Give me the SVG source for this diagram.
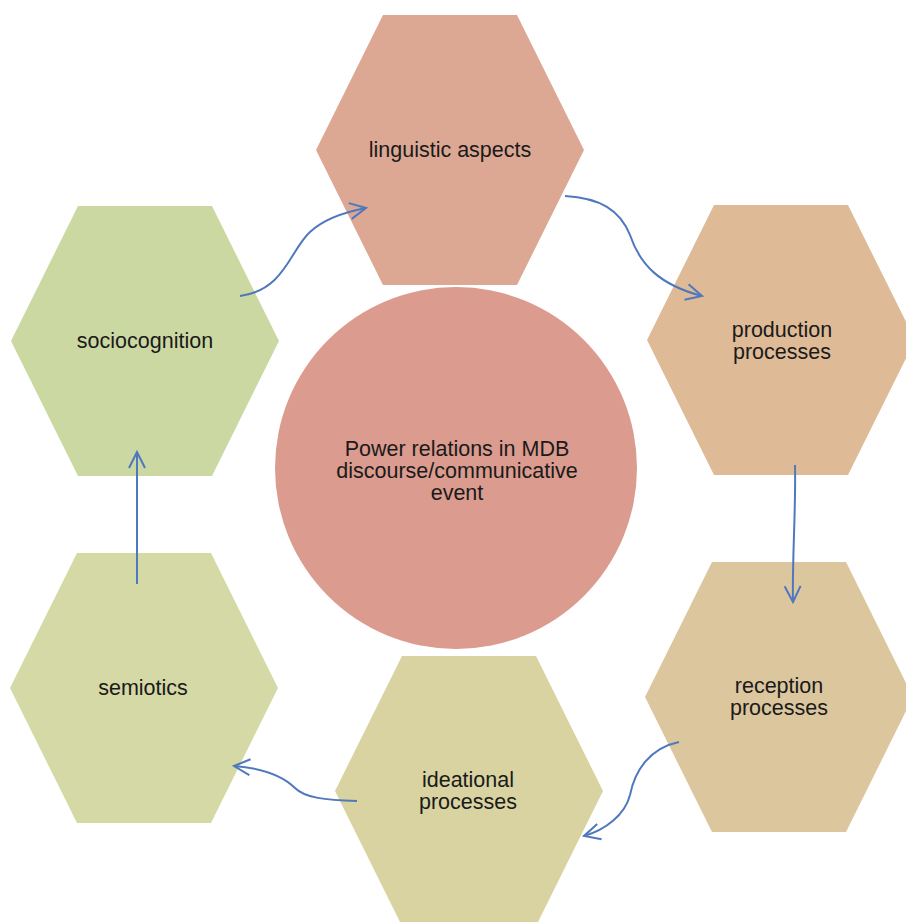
<svg xmlns="http://www.w3.org/2000/svg" width="906" height="922" viewBox="0 0 906 922">
<style>
.lbl{font-family:"Liberation Sans",Arial,sans-serif;font-size:21.5px;fill:#1a1a1a;text-anchor:middle}
.con{fill:none;stroke:#4f78bd;stroke-width:2;marker-end:url(#ah)}
</style>
<defs>
<marker id="ah" viewBox="0 0 20 20" refX="18" refY="10" markerWidth="20" markerHeight="20" markerUnits="userSpaceOnUse" orient="auto">
<path d="M2,2 L18,10 L2,18" fill="none" stroke="#4f78bd" stroke-width="2"/>
</marker>
</defs>
<rect width="906" height="922" fill="#ffffff"/>
<g id="center">
<circle cx="456" cy="468" r="181" fill="#db9b8e"/>
<text class="lbl" x="457" y="456">Power relations in MDB</text>
<text class="lbl" x="457" y="478">discourse/communicative</text>
<text class="lbl" x="457" y="500">event</text>
</g>
<g id="linguistic">
<polygon points="316,150 383,15 517,15 584,150 517,285 383,285" fill="#dca894"/>
<text class="lbl" x="450" y="157">linguistic aspects</text>
</g>
<g id="production">
<polygon points="647,340 714,205 848,205 915,340 848,475 714,475" fill="#deba96"/>
<text class="lbl" x="782" y="337">production</text>
<text class="lbl" x="782" y="359">processes</text>
</g>
<g id="reception">
<polygon points="645,697 712,562 846,562 913,697 846,832 712,832" fill="#dcc69e"/>
<text class="lbl" x="779" y="693">reception</text>
<text class="lbl" x="779" y="715">processes</text>
</g>
<g id="ideational">
<polygon points="335,791 402,656 536,656 603,791 536,926 402,926" fill="#d8d3a0"/>
<text class="lbl" x="468" y="787">ideational</text>
<text class="lbl" x="468" y="809">processes</text>
</g>
<g id="semiotics">
<polygon points="10,688 77,553 211,553 278,688 211,823 77,823" fill="#d4d9a5"/>
<text class="lbl" x="143" y="695">semiotics</text>
</g>
<g id="sociocognition">
<polygon points="11,341 78,206 212,206 279,341 212,476 78,476" fill="#ccd8a2"/>
<text class="lbl" x="145" y="348">sociocognition</text>
</g>
<g id="connectors">
<path class="con" d="M240,296 C285,290 290,250 310,232 C325,218 345,212 366,208"/>
<path class="con" d="M565,196 C600,198 620,210 630,235 C640,265 660,285 702,296"/>
<path class="con" d="M795,465 C796,510 792,560 793,602"/>
<path class="con" d="M679,742 C650,748 635,770 630,795 C625,815 605,830 584,836"/>
<path class="con" d="M357,801 C325,800 305,798 295,788 C282,775 260,768 234,766"/>
<path class="con" d="M137,584 L137,452"/>
</g>
</svg>
